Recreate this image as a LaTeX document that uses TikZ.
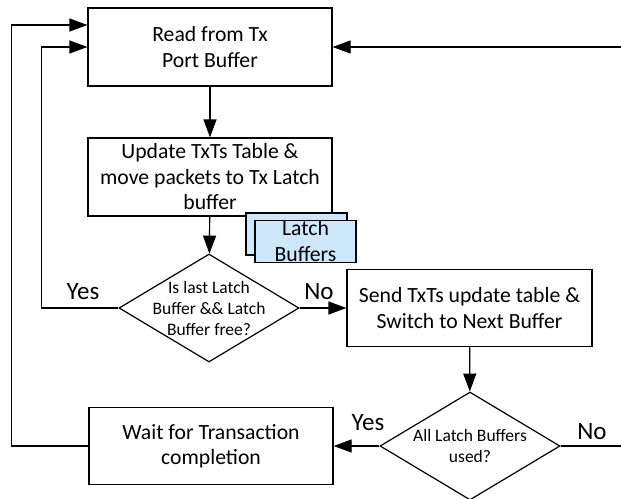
\documentclass[tikz,border=0pt]{standalone}
\usepackage{fontspec}
\setmainfont{Carlito}
\usepackage{xcolor}
\usetikzlibrary{arrows.meta,positioning,calc,shapes.geometric}
\definecolor{latchblue}{RGB}{204,232,250}

\begin{document}
\begin{tikzpicture}[x=1pt,y=-1pt,line width=1.2pt,
  box/.style={draw,minimum width=244pt,minimum height=78pt,inner sep=1pt,align=center,font=\fontsize{21.7}{25.5}\selectfont},
  decision/.style={draw,diamond,minimum width=180pt,minimum height=108pt,inner sep=0pt},
  dtext/.style={align=center,font=\fontsize{17.5}{21}\selectfont},
  latch/.style={draw,fill=latchblue,minimum width=101pt,minimum height=42pt,inner sep=0pt,align=center,font=\fontsize{21.7}{26}\selectfont},
  ans/.style={font=\fontsize{25}{25}\selectfont},
  arr/.style={-{Triangle[length=18pt,width=13pt]}}]
\useasboundingbox (0,0) rectangle (621,498);
% main boxes
\node[box] (read) at (210,47) {Read from Tx\\Port Buffer};
\node[box] (update) at (210,177) {Update TxTs Table \&\\move packets to Tx Latch\\buffer};
% stack of latch buffers
\node[latch] (back) at (296.5,234) {};
\node[latch] (latch) at (305.5,241.5) {Latch\\Buffers};
\node[decision] (last) at (209,308) {};
\node[dtext] (lastq) at (last) {Is last Latch\\Buffer \&\& Latch\\Buffer free?};
\node[box,minimum width=245pt,minimum height=77pt] (send) at (469.5,308) {Send TxTs update table \&\\Switch to Next Buffer};
\node[decision] (used) at (470,446) {};
\node[dtext] (usedq) at (used) {All Latch Buffers\\used?};
\node[box,minimum height=77pt] (wait) at (211,446) {Wait for Transaction\\completion};
% connectors
\coordinate (rin) at (621,47);
\coordinate (rout) at (621,446);
\draw[arr] (read) -- (update);
\draw[arr] (update) -- (last);
\draw[arr] (last.east) -- (send.west);
\draw[arr] (send) -- (used);
\draw[arr] (used.west) -- (wait.east);
\draw (used.east) -- (rout);
\draw[arr] (rin) -- (read.east);
\draw[arr] (last.west) -- ++(-77,0) |- (read.west);
\draw[arr] (wait.west) -- ++(-77,0) |- ($(read.west)+(0,-22)$);
% answers
\node[ans] (yes1) at (83,292) {Yes};
\node[ans] (no1) at (319,292) {No};
\node[ans] (yes2) at (368,423) {Yes};
\node[ans] (no2) at (592,432) {No};
\end{tikzpicture}
\end{document}
